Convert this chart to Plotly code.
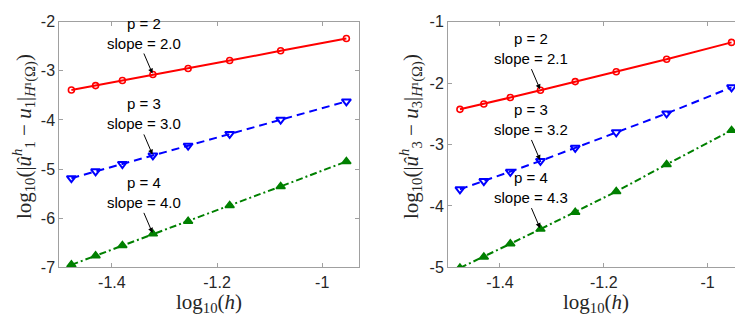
import plotly.graph_objects as go

# ---- data ----
log_h = [-1.477, -1.431, -1.380, -1.322, -1.255, -1.176, -1.079, -0.954]

left_p2 = [-3.390, -3.300, -3.197, -3.075, -2.952, -2.791, -2.592, -2.341]
left_p3 = [-5.185, -5.044, -4.896, -4.722, -4.523, -4.284, -3.995, -3.622]
left_p4 = [-6.948, -6.762, -6.556, -6.318, -6.060, -5.739, -5.353, -4.844]

right_p2 = [-2.427, -2.339, -2.235, -2.115, -1.975, -1.815, -1.612, -1.337]
right_p3 = [-3.729, -3.594, -3.444, -3.267, -3.054, -2.800, -2.494, -2.069]
right_p4 = [-5.010, -4.829, -4.616, -4.377, -4.102, -3.765, -3.324, -2.769]

left_slopes = ["2.0", "3.0", "4.0"]
right_slopes = ["2.1", "3.2", "4.3"]
degrees = [2, 3, 4]

x_tickvals = [-1.4, -1.2, -1.0]
x_ticktext = ["-1.4", "-1.2", "-1"]
left_yticks = [-7, -6, -5, -4, -3, -2]
left_yticktext = ["-7", "-6", "-5", "-4", "-3", "-2"]
right_yticks = [-5, -4, -3, -2, -1]
right_yticktext = ["-5", "-4", "-3", "-2", "-1"]

# ---- styles ----
RED, BLUE, GREEN = "#ff0000", "#0000ff", "#008000"
SANS = "Liberation Sans, Arial, sans-serif"
SERIF = "Liberation Serif, Times New Roman, serif"
W, H = 743, 316

styles = [
    dict(color=RED, dash="solid", symbol="circle-open", size=6, lw=1.6),
    dict(color=BLUE, dash="8px,5px", symbol="triangle-down-open", size=8, lw=2),
    dict(color=GREEN, dash="7px,3px,2px,3px", symbol="triangle-up", size=8, lw=1.5),
]

fig = go.Figure()

def add_series(xa, ya, series):
    for ys, st in zip(series, styles):
        fig.add_trace(go.Scatter(
            x=log_h, y=ys, xaxis=xa, yaxis=ya, mode="lines+markers",
            line=dict(color=st["color"], width=2, dash=st["dash"]),
            marker=dict(symbol=st["symbol"], size=st["size"], color=st["color"],
                        line=dict(color=st["color"], width=st["lw"])),
            showlegend=False, hoverinfo="skip"))

add_series("x", "y", [left_p2, left_p3, left_p4])
add_series("x2", "y2", [right_p2, right_p3, right_p4])

axis_common = dict(
    showline=True, linecolor="#a0a0a0", linewidth=1, mirror="ticks",
    ticks="inside", ticklen=4, tickcolor="#a0a0a0", tickwidth=1,
    showgrid=False, zeroline=False, ticklabeloverflow="allow",
    tickfont=dict(family=SANS, size=16, color="#262626"),
)

fig.update_layout(
    width=W, height=H, margin=dict(l=0, r=0, t=0, b=0),
    paper_bgcolor="white", plot_bgcolor="white",
    xaxis=dict(domain=[51.3 / W, 351 / W], range=[-1.5, -0.93], anchor="y",
               tickvals=x_tickvals, ticktext=x_ticktext, **axis_common),
    yaxis=dict(domain=[1 - 265.7 / H, 1 - 6 / H], range=[-7.0005, -1.9995], anchor="x",
               tickvals=left_yticks, ticktext=left_yticktext, **axis_common),
    xaxis2=dict(domain=[440 / W, 736 / W], range=[-1.5, -0.93], anchor="y2",
                tickvals=x_tickvals, ticktext=x_ticktext, **axis_common),
    yaxis2=dict(domain=[1 - 265.7 / H, 1 - 6 / H], range=[-5.0004, -0.9996], anchor="x2",
                tickvals=right_yticks, ticktext=right_yticktext, **axis_common),
)

annotations = []
# slope annotations with arrows pointing to the 4th point
for xa, ya, series, slopes in [("x", "y", [left_p2, left_p3, left_p4], left_slopes),
                               ("x2", "y2", [right_p2, right_p3, right_p4], right_slopes)]:
    for ys, p, s in zip(series, degrees, slopes):
        annotations.append(dict(
            x=log_h[3], y=ys[3], xref=xa, yref=ya,
            text=f"p = {p}<br>slope = {s}", showarrow=True,
            ax=-9, ay=-21, xanchor="center", yanchor="bottom",
            arrowhead=2, arrowsize=1, arrowwidth=1, arrowcolor="black",
            standoff=1, align="center",
            font=dict(family=SANS, size=15, color="black"),
        ))

# axis titles
xlabel = "log<sub>10</sub>(<i>h</i>)"
ylabel_left = ("log<sub>10</sub>(|<i>û</i><sup><i>h</i></sup><sub>1</sub> − "
               "<i>u</i><sub>1</sub>|<sub><i>H</i>¹(Ω)</sub>)")
ylabel_right = ("log<sub>10</sub>(|<i>û</i><sup><i>h</i></sup><sub>3</sub> − "
                "<i>u</i><sub>3</sub>|<sub><i>H</i>¹(Ω)</sub>)")
for xc in [(51.3 + 351) / 2 / W, (440 + 736) / 2 / W]:
    annotations.append(dict(x=xc, y=1 - 303 / H, xref="paper", yref="paper",
                            xanchor="center", yanchor="middle",
                            text=xlabel, showarrow=False,
                            font=dict(family=SERIF, size=21, color="#262626")))
for xc, txt in [(16 / W, ylabel_left), (403 / W, ylabel_right)]:
    annotations.append(dict(x=xc, y=1 - 128 / H, xref="paper", yref="paper",
                            xanchor="center", yanchor="middle",
                            text=txt, showarrow=False, textangle=-90,
                            font=dict(family=SERIF, size=21, color="#262626")))

fig.update_layout(annotations=annotations)
fig.write_html("out.html")
